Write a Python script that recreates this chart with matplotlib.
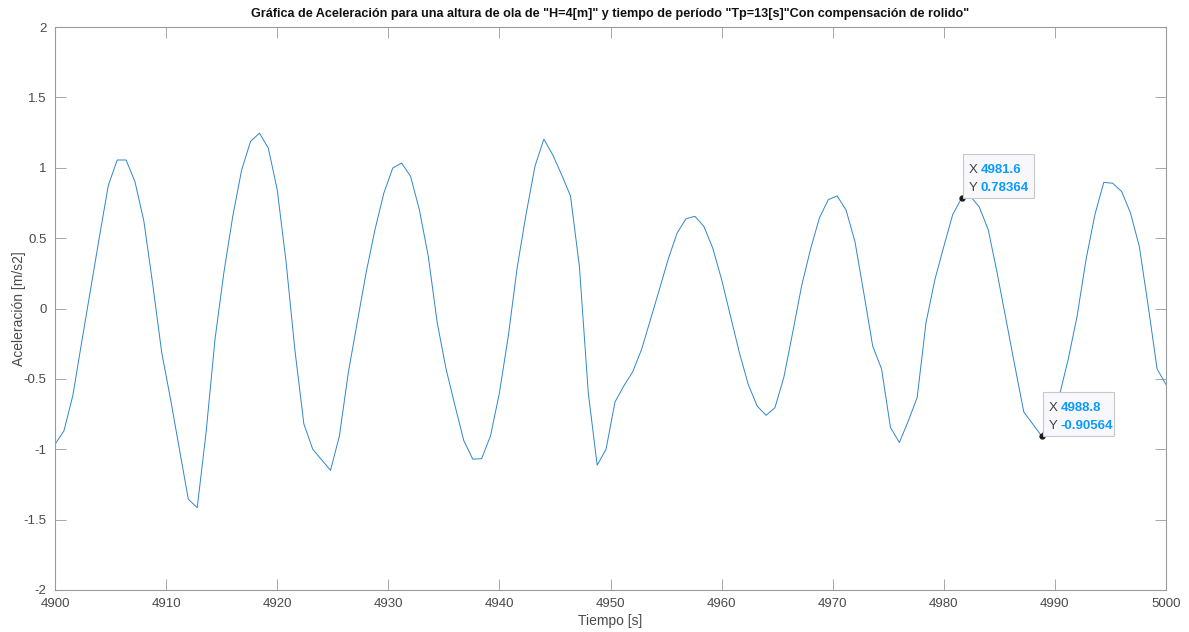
import numpy as np
import matplotlib
matplotlib.use('Agg')
import matplotlib.pyplot as plt
import matplotlib.transforms as mtransforms
from matplotlib.patches import Rectangle

plt.rcParams['font.family'] = ['Liberation Sans', 'DejaVu Sans']

# sampling grid of the record (0.8 s step)
t0 = 4900.0
dt = 0.8

# acceleration [m/s2]
acc = [-0.965, -0.87, -0.62, -0.24, 0.135, 0.51, 0.875, 1.055, 1.055, 0.90,
       0.62, 0.17, -0.31, -0.645, -1.0, -1.355, -1.415, -0.88, -0.22, 0.255,
       0.655, 0.985, 1.187, 1.246, 1.14, 0.845, 0.33, -0.30, -0.82, -1.0,
       -1.075, -1.15, -0.905, -0.456, -0.10, 0.253, 0.56, 0.82, 0.998, 1.033,
       0.94, 0.70, 0.37, -0.10, -0.43, -0.69, -0.94, -1.07, -1.067, -0.905,
       -0.60, -0.196, 0.29, 0.67, 1.01, 1.203, 1.092, 0.95, 0.80, 0.30,
       -0.60, -1.113, -1.0, -0.665, -0.55, -0.45, -0.29, -0.078, 0.135, 0.352,
       0.537, 0.638, 0.655, 0.584, 0.43, 0.206, -0.054, -0.314, -0.54, -0.693,
       -0.759, -0.705, -0.49, -0.17, 0.16, 0.42, 0.643, 0.773, 0.80, 0.70,
       0.477, 0.11, -0.267, -0.43, -0.846, -0.952, -0.80, -0.633, -0.10, 0.206,
       0.44, 0.667, 0.78364, 0.797, 0.72, 0.56, 0.253, -0.078, -0.41, -0.735,
       -0.82, -0.90564, -0.75, -0.62, -0.36, -0.054, 0.347, 0.667, 0.896, 0.89,
       0.832, 0.68, 0.44, 0.016, -0.43, -0.54]
t = t0 + dt * np.arange(len(acc))

# data tips shown on the figure (sample indices)
tips = [102, 111]

xticks = [4900, 4910, 4920, 4930, 4940, 4950, 4960, 4970, 4980, 4990, 5000]
yticks = [-2, -1.5, -1, -0.5, 0, 0.5, 1, 1.5, 2]
ytick_labels = ['-2', '-1.5', '-1', '-0.5', '0', '0.5', '1', '1.5', '2']

fig = plt.figure(figsize=(11.89, 6.32), dpi=100)
ax = fig.add_axes([55 / 1189, 1 - 590 / 632, (1166 - 55) / 1189, (590 - 27) / 632])

ax.plot(t, acc, color='#2f86cc', lw=0.7)

ax.set_xlim(4900, 5000)
ax.set_ylim(-2, 2)
ax.set_xticks(xticks)
ax.set_yticks(yticks)
ax.set_yticklabels(ytick_labels)
ax.tick_params(direction='in', length=8, width=0.6, color='#9a9a9a',
               labelcolor='#4a4a4a', labelsize=9.5, top=True, right=True, pad=6)
for s in ax.spines.values():
    s.set_color('#9a9a9a')
    s.set_linewidth(0.8)

ax.set_title('Gráfica de Aceleración para una altura de ola de "H=4[m]" y tiempo de período '
             '"Tp=13[s]"Con compensación de rolido"', fontsize=9.1, fontweight='bold',
             color='#111111', pad=7)
ax.set_xlabel('Tiempo [s]', fontsize=10, color='#4a4a4a', labelpad=3)
ax.set_ylabel('Aceleración [m/s2]', fontsize=10, color='#4a4a4a', va='center')
ax.yaxis.set_label_coords(-36 / 1111, 0.5)

# MATLAB style data tips
for i in tips:
    x, y = t[i], acc[i]
    ax.plot(x, y, 'o', ms=3.5, mfc='#1a1a1a', mec='#1a1a1a', zorder=5)
    base = mtransforms.ScaledTranslation(x, y, ax.transData)
    pix = mtransforms.IdentityTransform() + base
    ax.add_patch(Rectangle((1, 0), 71, 44, transform=pix, facecolor='#f8f8fc',
                           edgecolor='#c8c8c8', lw=0.8, zorder=6, clip_on=False))
    ax.text(7, 25, 'X', transform=pix, fontsize=9.5, color='#404040', zorder=7)
    ax.text(19, 25, '%.1f' % x, transform=pix, fontsize=9.5, color='#0a9bff',
            fontweight='bold', zorder=7)
    ax.text(7, 7, 'Y', transform=pix, fontsize=9.5, color='#404040', zorder=7)
    ax.text(19, 7, ('%.5f' % y).rstrip('0'), transform=pix, fontsize=9.5,
            color='#0a9bff', fontweight='bold', zorder=7)

fig.savefig('out.png', dpi=100)
